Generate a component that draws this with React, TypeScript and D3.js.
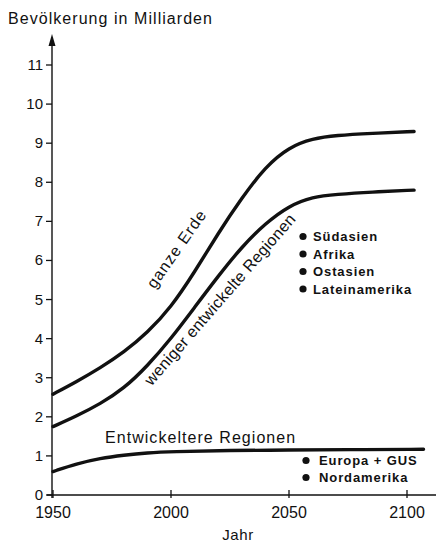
import React from "react";
import * as d3 from "d3";

const xTicks = [1950, 2000, 2050, 2100];
const yTicks = [0, 1, 2, 3, 4, 5, 6, 7, 8, 9, 10, 11];

const worldYears = [1950, 1960, 1970, 1980, 1990, 2000, 2010, 2020, 2030, 2040, 2050, 2060, 2070, 2085, 2103];
const worldValues = [2.58, 2.9, 3.25, 3.65, 4.15, 4.8, 5.7, 6.7, 7.6, 8.4, 8.9, 9.12, 9.2, 9.25, 9.3];

const lessYears = [1950, 1960, 1970, 1980, 1990, 2000, 2010, 2020, 2030, 2040, 2050, 2060, 2070, 2085, 2103];
const lessValues = [1.75, 2.02, 2.33, 2.72, 3.3, 4.0, 4.8, 5.6, 6.35, 6.95, 7.4, 7.63, 7.69, 7.75, 7.8];

const devYears = [1950, 1960, 1970, 1980, 1990, 2000, 2025, 2050, 2075, 2107];
const devValues = [0.6, 0.8, 0.94, 1.02, 1.08, 1.11, 1.14, 1.15, 1.16, 1.17];

const legendLess = ["Südasien", "Afrika", "Ostasien", "Lateinamerika"];
const legendDev = ["Europa + GUS", "Nordamerika"];

const FONT = "'Liberation Sans', Arial, sans-serif";
const INK = "#111";

export default function App() {
  const x = d3.scaleLinear().domain([1950, 2100]).range([53, 407]);
  const y = d3.scaleLinear().domain([0, 11]).range([495, 65]);
  const line = d3
    .line<[number, number]>()
    .x((d) => x(d[0]))
    .y((d) => y(d[1]))
    .curve(d3.curveBasis);
  const series = [
    worldYears.map((yr, i) => [yr, worldValues[i]] as [number, number]),
    lessYears.map((yr, i) => [yr, lessValues[i]] as [number, number]),
    devYears.map((yr, i) => [yr, devValues[i]] as [number, number]),
  ];
  const axisX = x(1950) - 1;
  const axisY = y(0);

  return (
    <svg
      width={436}
      height={543}
      style={{ position: "absolute", left: 0, top: 0, background: "#fff" }}
      fontFamily={FONT}
    >
      <rect width={436} height={543} fill="#fff" />
      <text x={8} y={24} fontSize={16} letterSpacing={1.05} fill={INK}>
        Bevölkerung in Milliarden
      </text>

      {/* y axis */}
      <line x1={axisX} x2={axisX} y1={44} y2={axisY + 3} stroke={INK} strokeWidth={1.4} />
      <path d={`M${axisX - 3.5},${46} L${axisX},${34} L${axisX + 3.5},${46} Z`} fill={INK} />
      {yTicks.map((t) => (
        <g key={t}>
          <line x1={axisX - 6} x2={axisX} y1={y(t)} y2={y(t)} stroke={INK} strokeWidth={1.3} />
          <text x={axisX - 9} y={y(t) + 5} fontSize={15} textAnchor="end" fill={INK}>
            {t}
          </text>
        </g>
      ))}

      {/* x axis */}
      <line x1={axisX - 5} x2={436} y1={axisY} y2={axisY} stroke={INK} strokeWidth={1.4} />
      {xTicks.map((t) => (
        <g key={t}>
          <line x1={x(t)} x2={x(t)} y1={axisY - 5} y2={axisY + 3} stroke={INK} strokeWidth={1.3} />
          <text x={x(t)} y={axisY + 23} fontSize={16} textAnchor="middle" fill={INK}>
            {t}
          </text>
        </g>
      ))}
      <text x={238} y={540} fontSize={15} letterSpacing={0.6} textAnchor="middle" fill={INK}>
        Jahr
      </text>

      {/* curves */}
      {series.map((s, i) => (
        <path
          key={i}
          d={line(s) || ""}
          fill="none"
          stroke={INK}
          strokeWidth={3.4}
          strokeLinecap="round"
        />
      ))}

      {/* curve labels */}
      <text
        transform="translate(181,252) rotate(-55)"
        fontSize={16}
        letterSpacing={1}
        textAnchor="middle"
        fill={INK}
      >
        ganze Erde
      </text>
      <text
        transform="translate(224,303) rotate(-49)"
        fontSize={16}
        letterSpacing={0.3}
        textAnchor="middle"
        fill={INK}
      >
        weniger entwickelte Regionen
      </text>
      <text x={105} y={443} fontSize={16} letterSpacing={1.05} fill={INK}>
        Entwickeltere Regionen
      </text>

      {/* legends */}
      {legendLess.map((name, i) => (
        <g key={name}>
          <circle cx={303} cy={241 + i * 17.5 - 4.5} r={3.6} fill={INK} />
          <text x={313} y={241 + i * 17.5} fontSize={13} fontWeight="bold" letterSpacing={0.9} fill={INK}>
            {name}
          </text>
        </g>
      ))}
      {legendDev.map((name, i) => (
        <g key={name}>
          <circle cx={306} cy={465 + i * 17 - 4.5} r={3.6} fill={INK} />
          <text x={319} y={465 + i * 17} fontSize={13} fontWeight="bold" letterSpacing={0.9} fill={INK}>
            {name}
          </text>
        </g>
      ))}
    </svg>
  );
}
